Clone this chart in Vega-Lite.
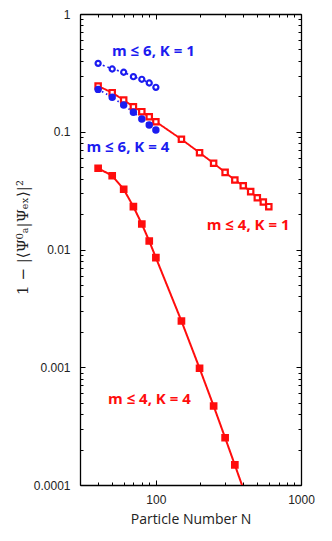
{
  "$schema": "https://vega.github.io/schema/vega-lite/v6.json",
  "width": 221,
  "height": 471,
  "autosize": "none",
  "padding": {"left": 80, "top": 14, "right": 31, "bottom": 56},
  "background": "white",
  "config": {"view": {"stroke": null}},
  "datasets": {
    "series": [
      {"series": "m ≤ 4, K = 4", "N": 40, "err": 0.049},
      {"series": "m ≤ 4, K = 4", "N": 50, "err": 0.0423},
      {"series": "m ≤ 4, K = 4", "N": 60, "err": 0.0325},
      {"series": "m ≤ 4, K = 4", "N": 70, "err": 0.0231},
      {"series": "m ≤ 4, K = 4", "N": 80, "err": 0.01646},
      {"series": "m ≤ 4, K = 4", "N": 90, "err": 0.0118},
      {"series": "m ≤ 4, K = 4", "N": 100, "err": 0.00852},
      {"series": "m ≤ 4, K = 4", "N": 150, "err": 0.00247},
      {"series": "m ≤ 4, K = 4", "N": 200, "err": 0.00098},
      {"series": "m ≤ 4, K = 4", "N": 250, "err": 0.000469},
      {"series": "m ≤ 4, K = 4", "N": 300, "err": 0.000252},
      {"series": "m ≤ 4, K = 4", "N": 350, "err": 0.000148},
      {"series": "m ≤ 4, K = 4", "N": 400, "err": 0.0000931},
      {"series": "m ≤ 4, K = 1", "N": 40, "err": 0.2446},
      {"series": "m ≤ 4, K = 1", "N": 50, "err": 0.2146},
      {"series": "m ≤ 4, K = 1", "N": 60, "err": 0.186},
      {"series": "m ≤ 4, K = 1", "N": 70, "err": 0.1632},
      {"series": "m ≤ 4, K = 1", "N": 80, "err": 0.148},
      {"series": "m ≤ 4, K = 1", "N": 90, "err": 0.1342},
      {"series": "m ≤ 4, K = 1", "N": 100, "err": 0.1217},
      {"series": "m ≤ 4, K = 1", "N": 150, "err": 0.0863},
      {"series": "m ≤ 4, K = 1", "N": 200, "err": 0.0664},
      {"series": "m ≤ 4, K = 1", "N": 250, "err": 0.054},
      {"series": "m ≤ 4, K = 1", "N": 300, "err": 0.0452},
      {"series": "m ≤ 4, K = 1", "N": 350, "err": 0.0389},
      {"series": "m ≤ 4, K = 1", "N": 400, "err": 0.0348},
      {"series": "m ≤ 4, K = 1", "N": 450, "err": 0.031},
      {"series": "m ≤ 4, K = 1", "N": 500, "err": 0.0275},
      {"series": "m ≤ 4, K = 1", "N": 550, "err": 0.0253},
      {"series": "m ≤ 4, K = 1", "N": 600, "err": 0.0231},
      {"series": "m ≤ 6, K = 1", "N": 40, "err": 0.381},
      {"series": "m ≤ 6, K = 1", "N": 50, "err": 0.341},
      {"series": "m ≤ 6, K = 1", "N": 60, "err": 0.32},
      {"series": "m ≤ 6, K = 1", "N": 70, "err": 0.2935},
      {"series": "m ≤ 6, K = 1", "N": 80, "err": 0.279},
      {"series": "m ≤ 6, K = 1", "N": 90, "err": 0.2595},
      {"series": "m ≤ 6, K = 1", "N": 100, "err": 0.2384},
      {"series": "m ≤ 6, K = 4", "N": 40, "err": 0.229},
      {"series": "m ≤ 6, K = 4", "N": 50, "err": 0.196},
      {"series": "m ≤ 6, K = 4", "N": 60, "err": 0.1687},
      {"series": "m ≤ 6, K = 4", "N": 70, "err": 0.1463},
      {"series": "m ≤ 6, K = 4", "N": 80, "err": 0.1283},
      {"series": "m ≤ 6, K = 4", "N": 90, "err": 0.114},
      {"series": "m ≤ 6, K = 4", "N": 100, "err": 0.1035}
    ],
    "labels": [
      {"series": "m ≤ 6, K = 1", "N": 96.1, "err": 0.485},
      {"series": "m ≤ 6, K = 4", "N": 64.1, "err": 0.0742},
      {"series": "m ≤ 4, K = 1", "N": 432, "err": 0.01614},
      {"series": "m ≤ 4, K = 4", "N": 90.2, "err": 0.000537}
    ]
  },
  "layer": [
    {
      "layer": [
        {
          "data": {"name": "series"},
          "mark": {"type": "line", "clip": true},
          "encoding": {
            "x": {"field": "N", "type": "quantitative"},
            "y": {"field": "err", "type": "quantitative"},
            "detail": {"field": "series"},
            "color": {"field": "series", "type": "nominal", "legend": null,
              "scale": {"domain": ["m ≤ 6, K = 1", "m ≤ 6, K = 4", "m ≤ 4, K = 1", "m ≤ 4, K = 4"], "range": ["#1c1cf0", "#1c1cf0", "#ff0d0d", "#ff0d0d"]}},
            "strokeDash": {"field": "series", "type": "nominal", "legend": null,
              "scale": {"domain": ["m ≤ 6, K = 1", "m ≤ 6, K = 4", "m ≤ 4, K = 1", "m ≤ 4, K = 4"], "range": [[2, 3], [1.5, 3], [1, 0], [1, 0]]}},
            "strokeWidth": {"field": "series", "type": "nominal", "legend": null,
              "scale": {"domain": ["m ≤ 6, K = 1", "m ≤ 6, K = 4", "m ≤ 4, K = 1", "m ≤ 4, K = 4"], "range": [1.6, 2, 2.6, 2.6]}}
          }
        },
        {
          "data": {"name": "series"},
          "transform": [{"filter": "datum.err >= 0.0001"}],
          "mark": {"type": "point", "opacity": 1, "strokeWidth": 2.2, "clip": true},
          "encoding": {
            "x": {"field": "N", "type": "quantitative"},
            "y": {"field": "err", "type": "quantitative"},
            "shape": {"field": "series", "type": "nominal", "legend": null,
              "scale": {"domain": ["m ≤ 6, K = 1", "m ≤ 6, K = 4", "m ≤ 4, K = 1", "m ≤ 4, K = 4"], "range": ["circle", "circle", "square", "square"]}},
            "size": {"field": "series", "type": "nominal", "legend": null,
              "scale": {"domain": ["m ≤ 6, K = 1", "m ≤ 6, K = 4", "m ≤ 4, K = 1", "m ≤ 4, K = 4"], "range": [26, 30, 40, 40]}},
            "fill": {"field": "series", "type": "nominal", "legend": null,
              "scale": {"domain": ["m ≤ 6, K = 1", "m ≤ 6, K = 4", "m ≤ 4, K = 1", "m ≤ 4, K = 4"], "range": ["#ffffff", "#1c1cf0", "#ffffff", "#ff0d0d"]}},
            "stroke": {"field": "series", "type": "nominal", "legend": null,
              "scale": {"domain": ["m ≤ 6, K = 1", "m ≤ 6, K = 4", "m ≤ 4, K = 1", "m ≤ 4, K = 4"], "range": ["#1c1cf0", "#1c1cf0", "#ff0d0d", "#ff0d0d"]}}
          }
        },
        {
          "data": {"name": "labels"},
          "mark": {"type": "text", "font": "Open Sans", "fontSize": 15, "fontWeight": "bold", "align": "center", "baseline": "middle"},
          "encoding": {
            "x": {"field": "N", "type": "quantitative"},
            "y": {"field": "err", "type": "quantitative"},
            "text": {"field": "series"},
            "color": {"field": "series", "type": "nominal", "legend": null}
          }
        }
      ],
      "encoding": {
        "x": {"field": "N", "type": "quantitative",
          "scale": {"type": "log", "domain": [30, 1000], "nice": false},
          "axis": {
            "orient": "bottom",
            "values": [30, 40, 50, 60, 70, 80, 90, 100, 200, 300, 400, 500, 600, 700, 800, 900, 1000],
            "format": "~g",
            "labelExpr": "datum.value == 100 || datum.value == 1000 ? datum.label : ''",
            "tickSize": {"expr": "datum.value == 100 || datum.value == 1000 ? -5 : -3"},
            "labelPadding": 14,
            "labelFont": "Liberation Sans", "labelFontSize": 12, "labelColor": "#222222",
            "labelFlush": false, "labelOverlap": false,
            "domainColor": "black", "domainWidth": 1.3, "tickColor": "black", "tickWidth": 1,
            "grid": false,
            "title": "Particle Number N",
            "titleFont": "Open Sans", "titleFontSize": 14, "titleFontWeight": "normal", "titleColor": "#222222",
            "titlePadding": 5
          }
        },
        "y": {"field": "err", "type": "quantitative",
          "scale": {"type": "log", "domain": [0.0001, 1], "nice": false},
          "axis": {
            "orient": "left",
            "values": [0.0001, 0.0002, 0.0003, 0.0004, 0.0005, 0.0006, 0.0007, 0.0008, 0.0009, 0.001, 0.002, 0.003, 0.004, 0.005, 0.006, 0.007, 0.008, 0.009, 0.01, 0.02, 0.03, 0.04, 0.05, 0.06, 0.07, 0.08, 0.09, 0.1, 0.2, 0.3, 0.4, 0.5, 0.6, 0.7, 0.8, 0.9, 1],
            "format": "~g",
            "labelExpr": "indexof([1, 0.1, 0.01, 0.001, 0.0001], datum.value) >= 0 ? datum.label : ''",
            "tickSize": {"expr": "indexof([1, 0.1, 0.01, 0.001, 0.0001], datum.value) >= 0 ? -5 : -3"},
            "labelPadding": 15,
            "labelFont": "Liberation Sans", "labelFontSize": 12, "labelColor": "#222222",
            "labelFlush": false, "labelOverlap": false,
            "domainColor": "black", "domainWidth": 1.3, "tickColor": "black", "tickWidth": 1,
            "grid": false,
            "title": "1 − |⟨Ψ⁰ₐ|Ψₑₓ⟩|²",
            "titleFont": "DejaVu Serif", "titleFontSize": 15, "titleFontWeight": "normal", "titleColor": "#222222",
            "titleAngle": -90, "titleAlign": "center", "titleBaseline": "middle",
            "titleX": -58, "titleY": 223
          }
        }
      }
    },
    {
      "data": {"name": "series"},
      "mark": {"type": "point", "opacity": 0},
      "encoding": {
        "x": {"field": "N", "type": "quantitative",
          "scale": {"type": "log", "domain": [30, 1000], "nice": false},
          "axis": {
            "orient": "top",
            "values": [30, 40, 50, 60, 70, 80, 90, 100, 200, 300, 400, 500, 600, 700, 800, 900, 1000],
            "labels": false, "title": null, "grid": false,
            "tickSize": {"expr": "datum.value == 100 || datum.value == 1000 ? -5 : -3"},
            "domainColor": "black", "domainWidth": 1.3, "tickColor": "black", "tickWidth": 1
          }
        },
        "y": {"field": "err", "type": "quantitative",
          "scale": {"type": "log", "domain": [0.0001, 1], "nice": false},
          "axis": {
            "orient": "right",
            "values": [0.0001, 0.0002, 0.0003, 0.0004, 0.0005, 0.0006, 0.0007, 0.0008, 0.0009, 0.001, 0.002, 0.003, 0.004, 0.005, 0.006, 0.007, 0.008, 0.009, 0.01, 0.02, 0.03, 0.04, 0.05, 0.06, 0.07, 0.08, 0.09, 0.1, 0.2, 0.3, 0.4, 0.5, 0.6, 0.7, 0.8, 0.9, 1],
            "labels": false, "title": null, "grid": false,
            "tickSize": {"expr": "indexof([1, 0.1, 0.01, 0.001, 0.0001], datum.value) >= 0 ? -5 : -3"},
            "domainColor": "black", "domainWidth": 1.3, "tickColor": "black", "tickWidth": 1
          }
        }
      }
    }
  ],
  "resolve": {"axis": {"x": "independent", "y": "independent"}}
}
